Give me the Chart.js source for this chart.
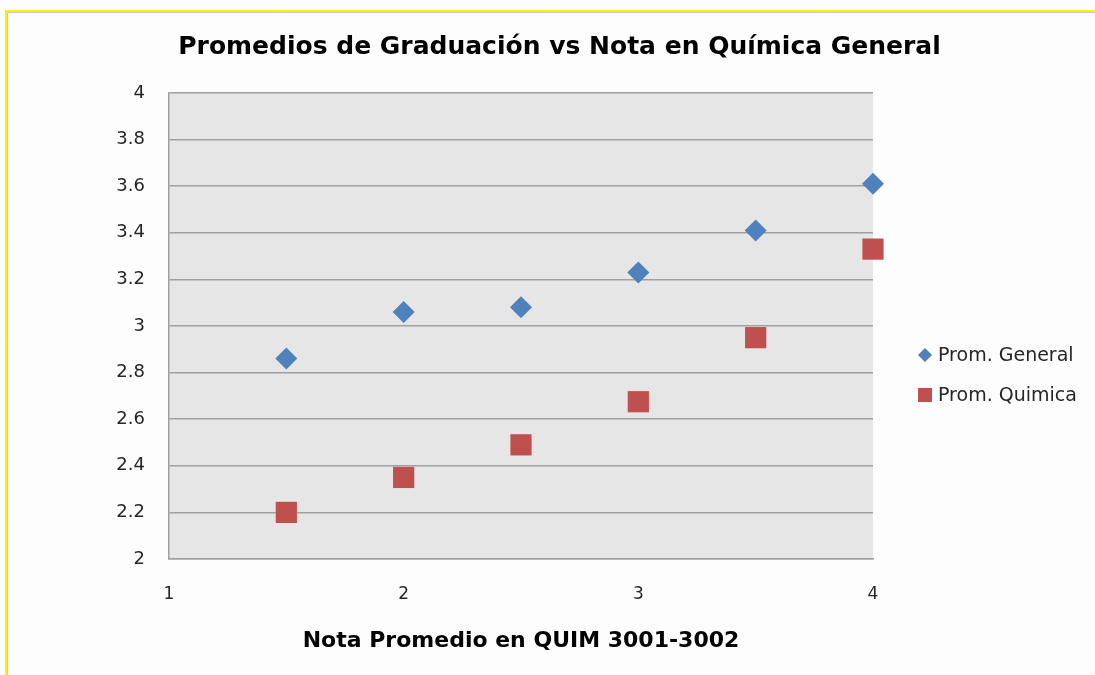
<!DOCTYPE html>
<html>
<head>
<meta charset="utf-8">
<script src="https://cdn.jsdelivr.net/npm/chart.js@4.4.1/dist/chart.umd.min.js"></script>
<style>
  html, body { margin: 0; padding: 0; background: #fff; }
  #wrap { width: 1095px; height: 675px; position: relative; }
</style>
</head>
<body>
<div id="wrap"><canvas id="c" width="1095" height="675"></canvas></div>
<script>
const chartTitle = 'Promedios de Graduación vs Nota en Química General';
const xAxisTitle = 'Nota Promedio en QUIM 3001-3002';
const xValues = [1.5, 2, 2.5, 3, 3.5, 4];
const promGeneral = [2.86, 3.06, 3.08, 3.23, 3.41, 3.61];
const promQuimica = [2.20, 2.35, 2.49, 2.675, 2.95, 3.33];
const seriesNames = ['Prom. General', 'Prom. Quimica'];
const xTicks = [1, 2, 3, 4];
const xTickLabels = ['1', '2', '3', '4'];
const yTicks = [2, 2.2, 2.4, 2.6, 2.8, 3, 3.2, 3.4, 3.6, 3.8, 4];
const yTickLabels = ['2', '2.2', '2.4', '2.6', '2.8', '3', '3.2', '3.4', '3.6', '3.8', '4'];

const FONT = '"DejaVu Sans", sans-serif';
const BLUE = '#4F81BD';
const RED = '#C0504D';

const toPoints = (ys) => xValues.map((x, i) => ({ x: x, y: ys[i] }));

const framePlugin = {
  id: 'frame',
  beforeDraw(chart) {
    const ctx = chart.ctx;
    ctx.save();
    ctx.fillStyle = '#fdfdfd';
    ctx.fillRect(0, 0, chart.width, chart.height);
    const a = chart.chartArea;
    ctx.fillStyle = '#E6E6E6';
    ctx.fillRect(a.left, a.top, a.right - a.left, a.bottom - a.top);
    ctx.lineWidth = 1;
    ctx.strokeStyle = '#C8C8D8';
    ctx.beginPath();
    ctx.moveTo(7.5, chart.height);
    ctx.lineTo(7.5, 12.5);
    ctx.lineTo(chart.width, 12.5);
    ctx.stroke();
    ctx.strokeStyle = '#FFF000';
    ctx.lineWidth = 2;
    ctx.beginPath();
    ctx.moveTo(6, chart.height);
    ctx.lineTo(6, 11);
    ctx.lineTo(chart.width, 11);
    ctx.stroke();
    ctx.restore();
  },
  afterDraw(chart) {
    const ctx = chart.ctx;
    ctx.save();
    const items = chart.data.datasets;
    const x0 = 925, ys = [355, 395];
    items.forEach((ds, i) => {
      const y = ys[i];
      ctx.fillStyle = ds.backgroundColor;
      ctx.beginPath();
      if (ds.pointStyle === 'rectRot') {
        const r = 7;
        ctx.moveTo(x0 - r, y);
        ctx.lineTo(x0, y - r);
        ctx.lineTo(x0 + r, y);
        ctx.lineTo(x0, y + r);
        ctx.closePath();
      } else {
        ctx.rect(x0 - 7, y - 7, 14, 14);
      }
      ctx.fill();
      ctx.fillStyle = '#262626';
      ctx.font = '19px ' + FONT;
      ctx.textBaseline = 'middle';
      ctx.textAlign = 'left';
      ctx.fillText(ds.label, 938, y + 1);
    });
    ctx.restore();
  }
};

new Chart(document.getElementById('c'), {
  type: 'scatter',
  data: {
    datasets: [
      {
        label: seriesNames[0],
        data: toPoints(promGeneral),
        pointStyle: 'rectRot',
        pointRadius: 11,
        pointHoverRadius: 11,
        backgroundColor: BLUE,
        borderColor: BLUE,
        borderWidth: 0,
        clip: false
      },
      {
        label: seriesNames[1],
        data: toPoints(promQuimica),
        pointStyle: 'rect',
        pointRadius: 15,
        pointHoverRadius: 15,
        backgroundColor: RED,
        borderColor: RED,
        borderWidth: 0,
        clip: false
      }
    ]
  },
  options: {
    responsive: false,
    animation: false,
    devicePixelRatio: 1,
    layout: { padding: { left: 24, right: 0, top: 0, bottom: 0 } },
    plugins: {
      legend: { display: false },
      tooltip: { enabled: false },
      title: {
        display: true,
        text: chartTitle,
        color: '#000',
        font: { family: FONT, size: 25, weight: 'bold' },
        padding: { top: 32, bottom: 31 }
      }
    },
    scales: {
      x: {
        type: 'linear',
        position: 'bottom',
        min: 1, max: 4,
        afterBuildTicks: (s) => { s.ticks = xTicks.map(v => ({ value: v })); },
        afterFit: (s) => { s.height = 116; },
        grid: { display: false, drawTicks: false },
        border: { display: true, color: '#A0A0A0', width: 1.5 },
        ticks: {
          color: '#262626', font: { family: FONT, size: 17 }, padding: 25,
          callback: (v) => xTickLabels[xTicks.indexOf(v)]
        },
        title: {
          display: true,
          text: xAxisTitle,
          color: '#000',
          font: { family: FONT, size: 22, weight: 'bold' },
          padding: { top: 0, bottom: 21 }
        }
      },
      y: {
        type: 'linear',
        position: 'left',
        min: 2, max: 4,
        afterBuildTicks: (s) => { s.ticks = yTicks.map(v => ({ value: v })); },
        afterFit: (s) => { s.width = 145; },
        grid: { color: '#A0A0A0', lineWidth: 1.5, drawTicks: false },
        border: { display: true, color: '#A0A0A0', width: 1.5 },
        ticks: {
          color: '#262626', font: { family: FONT, size: 18 }, padding: 24,
          callback: (v) => yTickLabels[yTicks.findIndex(t => Math.abs(t - v) < 1e-9)]
        }
      },
      yRight: {
        type: 'linear',
        position: 'right',
        display: true,
        afterFit: (s) => { s.width = 222; },
        grid: { display: false, drawTicks: false },
        border: { display: false },
        ticks: { display: false }
      }
    }
  },
  plugins: [framePlugin]
});
</script>
</body>
</html>
